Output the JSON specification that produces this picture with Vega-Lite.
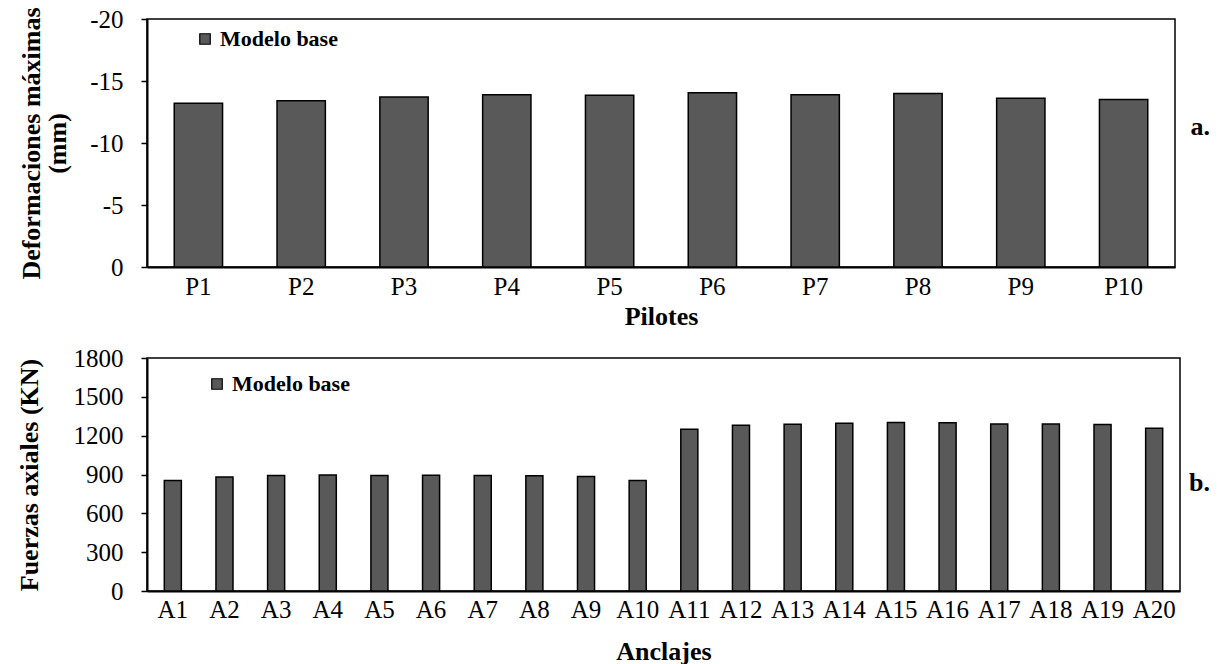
{
  "$schema": "https://vega.github.io/schema/vega-lite/v6.json",
  "background": "white",
  "padding": {"left": 15, "top": 6, "right": 4, "bottom": 4},
  "config": {
    "font": "Liberation Serif",
    "view": {"stroke": "black", "strokeWidth": 1.5},
    "axis": {"labelFont": "Liberation Serif", "titleFont": "Liberation Serif", "labelColor": "black", "titleColor": "black", "domainColor": "black", "tickColor": "black", "grid": false, "labelFontSize": 25, "titleFontSize": 26, "titleFontWeight": "bold", "domainWidth": 2, "tickWidth": 1.5},
    "legend": {"labelFont": "Liberation Serif", "labelFontSize": 22, "labelFontWeight": "bold", "labelColor": "black", "padding": 0},
    "title": {"font": "Liberation Serif", "fontSize": 26, "fontWeight": "bold", "color": "black"},
    "concat": {"spacing": 15}
  },
  "vconcat": [
    {
      "width": 1028,
      "height": 248,
      "title": {"text": "a.", "orient": "right", "angle": 0, "align": "left", "baseline": "middle", "anchor": "middle", "offset": -4, "dy": -16},
      "data": {"values": [
        {"pilote": "P1", "def": -13.2},
        {"pilote": "P2", "def": -13.4},
        {"pilote": "P3", "def": -13.7},
        {"pilote": "P4", "def": -13.9},
        {"pilote": "P5", "def": -13.85},
        {"pilote": "P6", "def": -14.05},
        {"pilote": "P7", "def": -13.9},
        {"pilote": "P8", "def": -14.0},
        {"pilote": "P9", "def": -13.6},
        {"pilote": "P10", "def": -13.5}
      ]},
      "mark": {"type": "bar", "stroke": "black", "strokeWidth": 1.5},
      "encoding": {
        "x": {"field": "pilote", "type": "nominal", "sort": null, "title": "Pilotes",
              "scale": {"paddingInner": 0.53, "paddingOuter": 0.265},
              "axis": {"labelAngle": 0, "ticks": false, "labelPadding": 7, "titlePadding": 4}},
        "y": {"field": "def", "type": "quantitative", "title": ["Deformaciones máximas", "(mm)"],
              "scale": {"domain": [-20, 0], "reverse": true, "nice": false},
              "axis": {"values": [-20, -15, -10, -5, 0], "labelExpr": "'' + datum.value", "tickSize": 6, "labelPadding": 18, "titlePadding": 19, "titleLineHeight": 26}},
        "color": {"datum": "Modelo base", "type": "nominal", "scale": {"range": ["#595959"]},
                  "legend": {"title": null, "orient": "none", "legendX": 47, "legendY": 9, "symbolType": "square", "symbolSize": 110, "symbolStrokeColor": "black", "symbolStrokeWidth": 1.2, "labelOffset": 4}}
      }
    },
    {
      "width": 1033,
      "height": 233,
      "title": {"text": "b.", "orient": "right", "angle": 0, "align": "left", "baseline": "middle", "anchor": "middle", "offset": -12, "dy": 8},
      "data": {"values": [
        {"anclaje": "A1", "fuerza": 853},
        {"anclaje": "A2", "fuerza": 880},
        {"anclaje": "A3", "fuerza": 892},
        {"anclaje": "A4", "fuerza": 896},
        {"anclaje": "A5", "fuerza": 893},
        {"anclaje": "A6", "fuerza": 894},
        {"anclaje": "A7", "fuerza": 892},
        {"anclaje": "A8", "fuerza": 891},
        {"anclaje": "A9", "fuerza": 884},
        {"anclaje": "A10", "fuerza": 853},
        {"anclaje": "A11", "fuerza": 1250},
        {"anclaje": "A12", "fuerza": 1281},
        {"anclaje": "A13", "fuerza": 1288},
        {"anclaje": "A14", "fuerza": 1296},
        {"anclaje": "A15", "fuerza": 1301},
        {"anclaje": "A16", "fuerza": 1299},
        {"anclaje": "A17", "fuerza": 1291},
        {"anclaje": "A18", "fuerza": 1291},
        {"anclaje": "A19", "fuerza": 1286},
        {"anclaje": "A20", "fuerza": 1257}
      ]},
      "mark": {"type": "bar", "stroke": "black", "strokeWidth": 1.5},
      "encoding": {
        "x": {"field": "anclaje", "type": "nominal", "sort": null, "title": "Anclajes",
              "scale": {"paddingInner": 0.67, "paddingOuter": 0.335},
              "axis": {"labelAngle": 0, "ticks": false, "labelPadding": 6, "titlePadding": 16}},
        "y": {"field": "fuerza", "type": "quantitative", "title": "Fuerzas axiales (KN)",
              "scale": {"domain": [0, 1800], "nice": false},
              "axis": {"values": [0, 300, 600, 900, 1200, 1500, 1800], "format": "d", "tickSize": 6, "labelPadding": 18, "titlePadding": 31}},
        "color": {"datum": "Modelo base", "type": "nominal", "scale": {"range": ["#595959"]},
                  "legend": {"title": null, "orient": "none", "legendX": 59, "legendY": 15, "symbolType": "square", "symbolSize": 110, "symbolStrokeColor": "black", "symbolStrokeWidth": 1.2, "labelOffset": 4}}
      }
    }
  ],
  "resolve": {"scale": {"color": "independent"}, "legend": {"color": "independent"}}
}
